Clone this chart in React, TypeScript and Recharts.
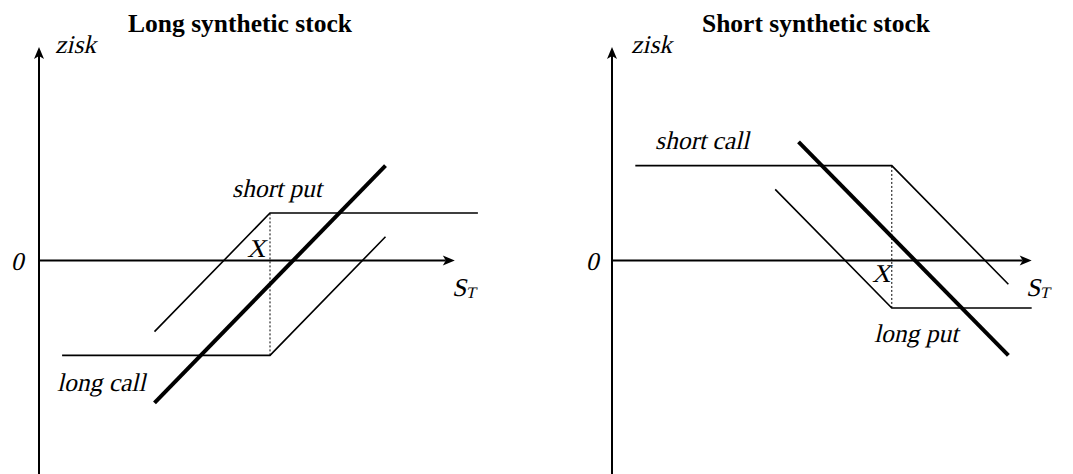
import React from "react";
import { LineChart, Line, XAxis, YAxis, ReferenceLine } from "recharts";

// payoff diagrams, s = price of underlying at expiry, p = profit
const LONG_CALL = [{ s: 10, p: -40 }, { s: 100, p: -40 }, { s: 150, p: 10 }];
const SHORT_PUT = [{ s: 50, p: -30 }, { s: 100, p: 20 }, { s: 190, p: 20 }];
const LONG_STOCK = [{ s: 50, p: -60 }, { s: 150, p: 40 }];

const SHORT_CALL = [{ s: 10, p: 40 }, { s: 120, p: 40 }, { s: 170, p: -10 }];
const LONG_PUT = [{ s: 70, p: 30 }, { s: 120, p: -20 }, { s: 180, p: -20 }];
const SHORT_STOCK = [{ s: 80, p: 50 }, { s: 170, p: -40 }];

const TITLES = ["Long synthetic stock", "Short synthetic stock"];
const STRIKES = [100, 120];
const STRIKE_LEVELS = [[-40, 20], [-20, 40]];
const AXIS_X_MAX = 180;
const AXIS_Y = [-90, 90];

const FONT = "Liberation Serif";

const ArrowLine = (props: any) => {
  const { x1, y1, x2, y2 } = props;
  const dx = x2 - x1;
  const dy = y2 - y1;
  const len = Math.hypot(dx, dy) || 1;
  const ux = dx / len;
  const uy = dy / len;
  const nx = -uy;
  const ny = ux;
  const L = 12;
  const W = 5;
  const notch = 3;
  const bx = x2 - ux * L;
  const by = y2 - uy * L;
  const ix = x2 - ux * (L - notch);
  const iy = y2 - uy * (L - notch);
  const pts = [
    [x2, y2],
    [bx + nx * W, by + ny * W],
    [ix, iy],
    [bx - nx * W, by - ny * W],
  ]
    .map((q) => q.join(","))
    .join(" ");
  return (
    <g>
      <line x1={x1} y1={y1} x2={ix} y2={iy} stroke="#000" strokeWidth={2} />
      <polygon points={pts} fill="#000" />
    </g>
  );
};

// serif italic look: regular face slanted (the italic face resolves to a sans font here)
const Ital = ({ x, y, anchor, children }: any) => (
  <g transform={`translate(${x},${y}) skewX(-13)`}>
    <text
      x={0}
      y={0}
      textAnchor={anchor || "start"}
      style={{ fontFamily: FONT, fontSize: 25.5, fill: "#000" }}
    >
      {children}
    </text>
  </g>
);

interface PanelProps {
  idx: number;
  left: number;
  width: number;
  margin: { top: number; right: number; bottom: number; left: number };
  xMax: number;
  series: { data: { s: number; p: number }[]; w: number }[];
  labels: { text: string; x: number; y: number }[];
  titleX: number;
  ziskX: number;
  zeroX: number;
  xLabel: { x: number; y: number };
  stX: number;
}

const Panel = (p: PanelProps) => (
  <div style={{ position: "absolute", left: p.left, top: 0 }}>
    <LineChart width={p.width} height={474} margin={p.margin}>
      <XAxis dataKey="s" type="number" domain={[0, p.xMax]} hide allowDuplicatedCategory={false} />
      <YAxis type="number" domain={AXIS_Y} hide />
      <ReferenceLine
        segment={[{ x: 0, y: 0 }, { x: AXIS_X_MAX, y: 0 }]}
        shape={ArrowLine}
      />
      <ReferenceLine
        segment={[{ x: 0, y: AXIS_Y[0] }, { x: 0, y: AXIS_Y[1] }]}
        shape={ArrowLine}
      />
      <ReferenceLine
        segment={[
          { x: STRIKES[p.idx], y: STRIKE_LEVELS[p.idx][0] },
          { x: STRIKES[p.idx], y: STRIKE_LEVELS[p.idx][1] },
        ]}
        stroke="#000"
        strokeWidth={1}
        strokeDasharray="2 2"
      />
      {p.series.map((sr, i) => (
        <Line
          key={i}
          data={sr.data}
          dataKey="p"
          type="linear"
          stroke="#000"
          strokeWidth={sr.w}
          dot={false}
          activeDot={false}
          isAnimationActive={false}
        />
      ))}
      <text
        x={p.titleX}
        y={32}
        textAnchor="middle"
        style={{ fontFamily: FONT, fontWeight: "bold", fontSize: 25.5, fill: "#000" }}
      >
        {TITLES[p.idx]}
      </text>
      <Ital x={p.ziskX} y={53}>zisk</Ital>
      <Ital x={p.zeroX} y={270} anchor="middle">0</Ital>
      <Ital x={p.xLabel.x} y={p.xLabel.y}>X</Ital>
      <Ital x={p.stX} y={296}>
        S<tspan style={{ fontSize: 16 }} dy={2}>T</tspan>
      </Ital>
      {p.labels.map((l) => (
        <Ital key={l.text} x={l.x} y={l.y}>
          {l.text}
        </Ital>
      ))}
    </LineChart>
  </div>
);

export default function App() {
  return (
    <div
      style={{
        position: "absolute",
        left: 0,
        top: 0,
        width: 1073,
        height: 474,
        overflow: "hidden",
        background: "#fff",
      }}
    >
      <Panel
        idx={0}
        left={0}
        width={536}
        margin={{ top: 47, right: 35, bottom: 0, left: 39 }}
        xMax={200}
        series={[
          { data: LONG_CALL, w: 1.6 },
          { data: SHORT_PUT, w: 1.6 },
          { data: LONG_STOCK, w: 4 },
        ]}
        labels={[
          { text: "short put", x: 232, y: 197 },
          { text: "long call", x: 57, y: 391 },
        ]}
        titleX={240}
        ziskX={55}
        zeroX={17}
        xLabel={{ x: 247, y: 257 }}
        stX={452}
      />
      <Panel
        idx={1}
        left={536}
        width={537}
        margin={{ top: 47, right: 18, bottom: 0, left: 76 }}
        xMax={190}
        series={[
          { data: SHORT_CALL, w: 1.6 },
          { data: LONG_PUT, w: 1.6 },
          { data: SHORT_STOCK, w: 4 },
        ]}
        labels={[
          { text: "short call", x: 119, y: 149 },
          { text: "long put", x: 338, y: 342 },
        ]}
        titleX={280}
        ziskX={95}
        zeroX={56}
        xLabel={{ x: 336, y: 282 }}
        stX={490}
      />
    </div>
  );
}
